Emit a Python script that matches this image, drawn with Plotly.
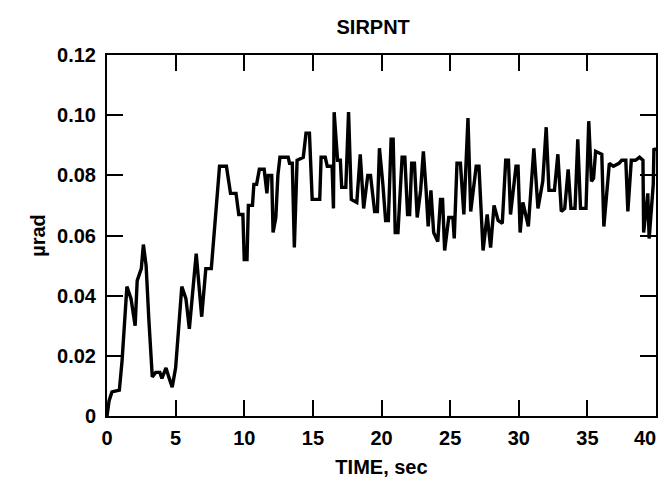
import plotly.graph_objects as go

time_sec = [
    0.0, 0.15, 0.36, 0.9, 1.1, 1.45, 1.75, 2.05, 2.2, 2.5,
    2.65, 2.85, 3.05, 3.3, 3.55, 3.85, 4.0, 4.3, 4.5, 4.75,
    5.0, 5.25, 5.45, 5.75, 6.0, 6.5, 6.9, 7.2, 7.6, 7.9,
    8.2, 8.7, 9.0, 9.4, 9.6, 9.9, 10.0, 10.2, 10.3, 10.6,
    10.7, 10.9, 11.1, 11.45, 11.65, 11.75, 12.0, 12.1, 12.3, 12.45,
    12.6, 13.2, 13.3, 13.5, 13.65, 13.85, 14.3, 14.5, 14.75, 14.95,
    15.5, 15.6, 15.9, 16.05, 16.4, 16.5, 16.55, 16.8, 17.0, 17.1,
    17.4, 17.6, 17.8, 18.2, 18.45, 18.7, 19.0, 19.2, 19.5, 19.7,
    19.85, 20.1, 20.3, 20.5, 20.7, 20.85, 21.0, 21.2, 21.5, 21.7,
    21.9, 22.05, 22.2, 22.4, 22.6, 22.85, 23.05, 23.25, 23.4, 23.6,
    23.8, 24.1, 24.3, 24.45, 24.6, 24.9, 25.2, 25.3, 25.5, 25.75,
    26.0, 26.3, 26.5, 26.9, 27.1, 27.4, 27.7, 27.95, 28.2, 28.5,
    28.8, 29.05, 29.25, 29.4, 29.8, 29.95, 30.1, 30.3, 30.7, 31.1,
    31.4, 31.75, 32.0, 32.2, 32.6, 32.85, 33.1, 33.35, 33.6, 33.8,
    34.1, 34.3, 34.5, 34.9, 35.1, 35.3, 35.45, 35.6, 36.05, 36.2,
    36.6, 36.9, 37.3, 37.5, 37.8, 37.95, 38.2, 38.5, 38.8, 39.05,
    39.1, 39.4, 39.5, 39.8, 39.85, 40.0,
]

sirpnt_urad = [
    0.0, 0.005, 0.008, 0.0086, 0.0185, 0.043, 0.039, 0.030, 0.045, 0.049,
    0.057, 0.050, 0.032, 0.013, 0.0145, 0.0145, 0.0125, 0.016, 0.013, 0.0096,
    0.016, 0.032, 0.043, 0.039, 0.029, 0.054, 0.033, 0.049, 0.049, 0.066,
    0.083, 0.083, 0.074, 0.074, 0.067, 0.067, 0.052, 0.052, 0.070, 0.070,
    0.077, 0.077, 0.082, 0.082, 0.074, 0.080, 0.080, 0.061, 0.066, 0.080,
    0.086, 0.086, 0.084, 0.084, 0.056, 0.085, 0.086, 0.094, 0.094, 0.072,
    0.072, 0.086, 0.086, 0.083, 0.083, 0.069, 0.101, 0.085, 0.085, 0.076,
    0.076, 0.101, 0.072, 0.071, 0.087, 0.069, 0.080, 0.080, 0.068, 0.068,
    0.089, 0.077, 0.065, 0.065, 0.092, 0.092, 0.061, 0.061, 0.086, 0.086,
    0.067, 0.067, 0.084, 0.084, 0.066, 0.075, 0.088, 0.075, 0.063, 0.075,
    0.061, 0.058, 0.072, 0.072, 0.055, 0.066, 0.066, 0.059, 0.084, 0.084,
    0.067, 0.099, 0.068, 0.083, 0.083, 0.055, 0.067, 0.056, 0.070, 0.065,
    0.064, 0.085, 0.085, 0.067, 0.083, 0.083, 0.061, 0.071, 0.063, 0.089,
    0.069, 0.078, 0.096, 0.075, 0.075, 0.087, 0.068, 0.069, 0.082, 0.069,
    0.069, 0.092, 0.069, 0.069, 0.098, 0.078, 0.079, 0.088, 0.087, 0.063,
    0.084, 0.083, 0.084, 0.085, 0.085, 0.068, 0.085, 0.085, 0.086, 0.085,
    0.061, 0.074, 0.059, 0.077, 0.089, 0.088,
]

x_ticks = [0, 5, 10, 15, 20, 25, 30, 35, 40]
x_tick_text = ["0", "5", "10", "15", "20", "25", "30", "35", ""]
x_last_label = "40"
y_ticks = [0, 0.02, 0.04, 0.06, 0.08, 0.10, 0.12]
y_tick_text = ["0", "0.02", "0.04", "0.06", "0.08", "0.10", "0.12"]

FONT = "Liberation Sans"

fig = go.Figure()
fig.add_trace(go.Scatter(
    x=time_sec, y=sirpnt_urad, mode="lines",
    line=dict(color="black", width=3.4),
    hoverinfo="skip", showlegend=False,
))

axis_common = dict(
    showline=True, linecolor="black", linewidth=2, mirror="allticks",
    ticks="inside", ticklen=16, tickwidth=2, tickcolor="black",
    showgrid=False, zeroline=False, automargin=False,
    tickfont=dict(family=FONT, size=20, color="black", weight="bold"),
)

fig.update_layout(
    width=664, height=483,
    margin=dict(l=107, r=8, t=55, b=67),
    paper_bgcolor="white", plot_bgcolor="white",
    title=dict(text="<b>SIRPNT</b>", x=0.562, xanchor="center", y=0.944, yanchor="middle",
               font=dict(family=FONT, size=20, color="black")),
    xaxis=dict(range=[0, 40], tickvals=x_ticks, ticktext=x_tick_text,
               ticklabelstandoff=3,
               title=dict(text="<b>TIME, sec</b>", standoff=12,
                          font=dict(family=FONT, size=20, color="black")),
               **axis_common),
    yaxis=dict(range=[0, 0.12], tickvals=y_ticks, ticktext=y_tick_text,
               ticklabelstandoff=5,
               title=dict(text="<b>µrad</b>", standoff=6,
                          font=dict(family=FONT, size=20, color="black")),
               **axis_common),
)

# last x tick label kept inside the page (as in the reference, it sits left of the tick)
fig.add_annotation(
    x=x_ticks[-1], xref="x", y=0, yref="paper",
    text=f"<b>{x_last_label}</b>", showarrow=False,
    xanchor="right", yanchor="top", xshift=2, yshift=-9,
    font=dict(family=FONT, size=20, color="black"),
)

fig.write_html("out.html")
